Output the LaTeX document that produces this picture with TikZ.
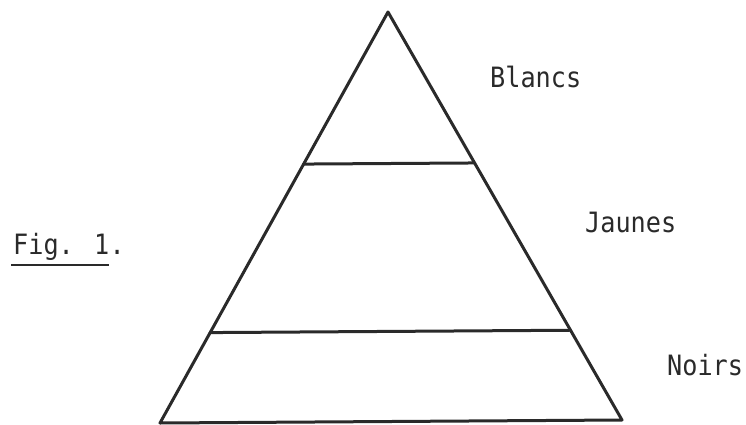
\documentclass[tikz,border=0pt]{standalone}
\usepackage{fontspec}
\usepackage{tikz}
\usetikzlibrary{positioning,calc}
\newfontfamily\typew[FakeStretch=0.9]{DejaVu Sans Mono}
\definecolor{inkgrey}{HTML}{2A2A2A}

\begin{document}
\begin{tikzpicture}[x=1pt,y=-1pt,
    edge/.style={draw=inkgrey,line width=3pt,line join=round,line cap=round},
    label/.style={inner sep=0pt,anchor=base west,text=inkgrey,
                  font=\typew\fontsize{28}{30}\selectfont}]
  \useasboundingbox (0,0) rectangle (746,425);
  \coordinate (top) at (388,12);
  \coordinate (left) at (160,423);
  \coordinate (right) at (622,420);
  \draw[edge] (top) -- (right) -- (left) -- cycle;
  \draw[edge] ($(top)!0.37!(left)$) -- ($(top)!0.37!(right)$);
  \draw[edge] ($(top)!0.78!(left)$) -- ($(top)!0.78!(right)$);
  \node[label] (blancs) at (490,88) {Blancs};
  \node[label] (jaunes) at (585,232) {Jaunes};
  \node[label] (noirs) at (667,375) {Noirs};
  \node[label] (fig) at (13,254) {Fig. 1};
  \node[label] (dot) at (fig.base east) {.};
  \draw[draw=inkgrey,line width=1.8pt] ($(fig.base west)+(-2,11)$) -- ($(fig.base east)+(0,11)$);
\end{tikzpicture}
\end{document}
